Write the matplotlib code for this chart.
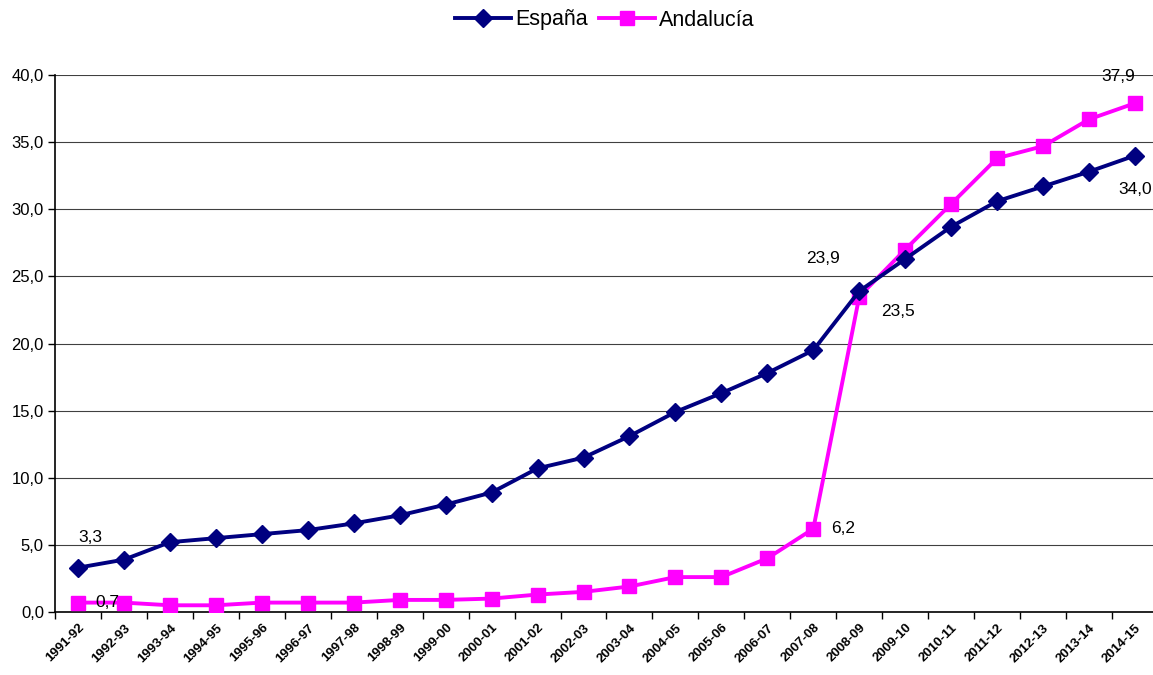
import matplotlib
matplotlib.use("Agg")
import matplotlib.pyplot as plt
import numpy as np

plt.rcParams['font.family'] = ['Liberation Sans', 'DejaVu Sans']

years = ["1991-92", "1992-93", "1993-94", "1994-95", "1995-96", "1996-97",
         "1997-98", "1998-99", "1999-00", "2000-01", "2001-02", "2002-03",
         "2003-04", "2004-05", "2005-06", "2006-07", "2007-08", "2008-09",
         "2009-10", "2010-11", "2011-12", "2012-13", "2013-14", "2014-15"]
espana = [3.3, 3.9, 5.2, 5.5, 5.8, 6.1, 6.6, 7.2, 8.0, 8.9, 10.7, 11.5,
          13.1, 14.9, 16.3, 17.8, 19.5, 23.9, 26.3, 28.7, 30.6, 31.7, 32.8, 34.0]
andalucia = [0.7, 0.7, 0.5, 0.5, 0.7, 0.7, 0.7, 0.9, 0.9, 1.0, 1.3, 1.5,
             1.9, 2.6, 2.6, 4.0, 6.2, 23.5, 27.0, 30.4, 33.8, 34.7, 36.7, 37.9]
y_ticks = [0, 5, 10, 15, 20, 25, 30, 35, 40]

W, H = 1153, 675
fig = plt.figure(figsize=(W / 100, H / 100), dpi=100)
left, right, bottom, top = 55, 1158, 612, 75
ax = fig.add_axes([left / W, (H - bottom) / H, (right - left) / W, (bottom - top) / H])

x = np.arange(len(years))
navy = "#000080"
mag = "#FF00FF"
ax.plot(x, espana, color=navy, lw=2.8, marker='D', ms=9.5, mec=navy, mfc=navy,
        label="España", zorder=4)
ax.plot(x, andalucia, color=mag, lw=2.8, marker='s', ms=10.5, mec=mag, mfc=mag,
        label="Andalucía", zorder=3)

ax.set_xlim(-0.5, len(years) - 0.5)
ax.set_ylim(0, 40)
ax.set_yticks(y_ticks)
ax.set_yticklabels([f"{v:.1f}".replace('.', ',') for v in y_ticks], fontsize=12)
ax.yaxis.grid(True, color="#000000", lw=0.8, alpha=0.75)
ax.set_axisbelow(True)
ax.tick_params(axis='y', length=5, width=1, direction='out', pad=3)

ax.set_xticks(x)
ax.set_xticklabels(years, rotation=45, ha='right', rotation_mode='anchor',
                   fontsize=9.5, fontweight='bold')
ax.tick_params(axis='x', which='major', length=0, pad=7)
ax.set_xticks(np.arange(-0.5, len(years), 1.0), minor=True)
ax.tick_params(axis='x', which='minor', length=5, width=1, direction='out')

for s in ['top', 'right']:
    ax.spines[s].set_visible(False)
for s in ['left', 'bottom']:
    ax.spines[s].set_color('black')
    ax.spines[s].set_linewidth(1.2)

def lab(xi, yi, txt, dx, dy):
    ax.annotate(txt, (xi, yi), xytext=(dx, -dy), textcoords='offset pixels',
                ha='center', va='center', fontsize=12.5, zorder=6)

lab(0, espana[0], "3,3", 12, -30)
lab(0, andalucia[0], "0,7", 29, 0)
lab(17, espana[17], "23,9", -36, -33)
lab(17, andalucia[17], "23,5", 39, 15)
lab(16, andalucia[16], "6,2", 30, 0)
lab(23, espana[23], "34,0", 0, 34)
lab(23, andalucia[23], "37,9", -17, -27)

fig.legend(loc='center', bbox_to_anchor=(605 / W, (H - 20) / H), ncol=2,
           frameon=False, fontsize=15.5, handlelength=2.6, columnspacing=0.5,
           handletextpad=0.2)

fig.savefig("out.png", dpi=100)
